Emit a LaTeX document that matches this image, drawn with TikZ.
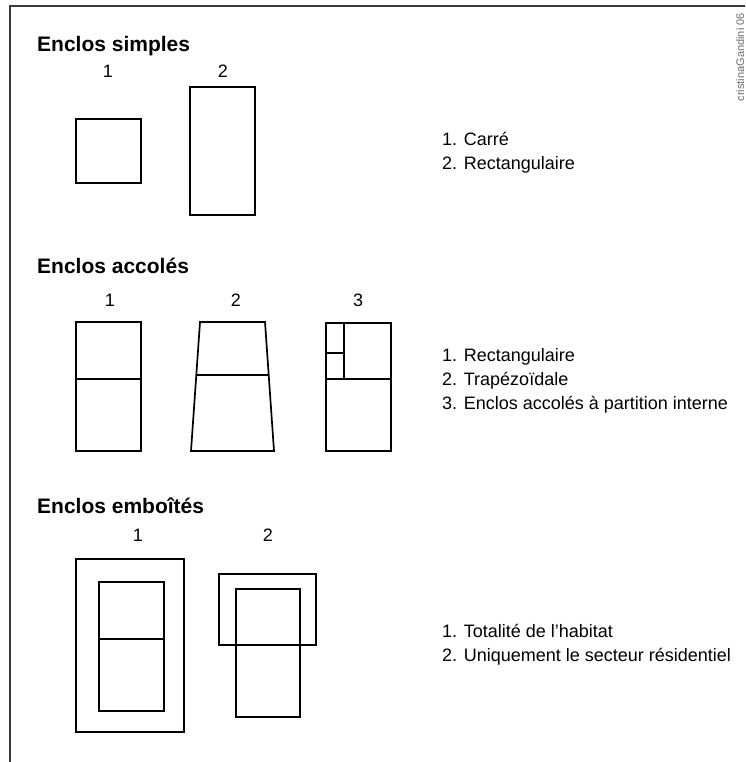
\documentclass[tikz,border=0pt]{standalone}
\usepackage{fontspec}
\setmainfont{Liberation Sans}
\usetikzlibrary{positioning}
\definecolor{cadreGray}{HTML}{3A3A3A}
\definecolor{signGray}{HTML}{6E6E6E}

\begin{document}
\begin{tikzpicture}[x=1pt,y=-1pt,
    enclos/.style={draw=black,line width=1.7pt,line join=miter},
    cadre/.style={draw=cadreGray,line width=1.8pt},
    titre/.style={anchor=base west,inner sep=0pt,font=\bfseries\fontsize{21}{24}\selectfont},
    numero/.style={anchor=base,inner sep=0pt,font=\fontsize{18}{22}\selectfont},
    legende/.style={anchor=base west,inner sep=0pt,align=left,font=\fontsize{18}{24}\selectfont}]
  \clip (0,0) rectangle (745,762);
  \fill[white] (0,0) rectangle (745,762);
  \draw[cadre] (746,6) -- (10,6) -- (10,763);
  \node[rotate=90,anchor=base east,inner sep=0pt,text=signGray,
        font=\fontsize{11}{13}\selectfont] (signature) at (744,13) {cristinaGandini 06};

  % enclos simples
  \node[titre] (simples) at (37,52) {Enclos simples};
  \node[numero] (simple1) at (108,78) {1};
  \node[numero] (simple2) at (223,78) {2};
  \draw[enclos] (76,119) rectangle (141,183);
  \draw[enclos] (190,87) rectangle (255,215);
  \node[legende] (legSimples) at (442,169) {1. Carré\\2. Rectangulaire};

  % enclos accoles
  \node[titre] (accoles) at (37,273) {Enclos accolés};
  \node[numero] (accole1) at (110,306) {1};
  \node[numero] (accole2) at (236,306) {2};
  \node[numero] (accole3) at (358,306) {3};
  \draw[enclos] (76,322) rectangle (141,451);
  \draw[enclos] (76,379) -- (141,379);
  \draw[enclos] (200,322) -- (265,322) -- (274,451) -- (191,451) -- cycle;
  \draw[enclos] (196.3,375) -- (268.7,375);
  \draw[enclos] (326,323) rectangle (391,451);
  \draw[enclos] (326,379) -- (391,379);
  \draw[enclos] (344,323) -- (344,379);
  \draw[enclos] (326,353) -- (344,353);
  \node[legende] (legAccoles) at (442,409)
    {1. Rectangulaire\\2. Trapézoïdale\\3. Enclos accolés à partition interne};

  % enclos emboites
  \node[titre] (emboites) at (37,513) {Enclos emboîtés};
  \node[numero] (emboite1) at (138,541) {1};
  \node[numero] (emboite2) at (268,541) {2};
  \draw[enclos] (76,559) rectangle (184,732);
  \draw[enclos] (99,582) rectangle (164,711);
  \draw[enclos] (99,639) -- (164,639);
  \draw[enclos] (219,574) rectangle (316,645);
  \draw[enclos] (236,589) rectangle (300,717);
  \node[legende] (legEmboites) at (442,661)
    {1. Totalité de l’habitat\\2. Uniquement le secteur résidentiel};
\end{tikzpicture}
\end{document}
